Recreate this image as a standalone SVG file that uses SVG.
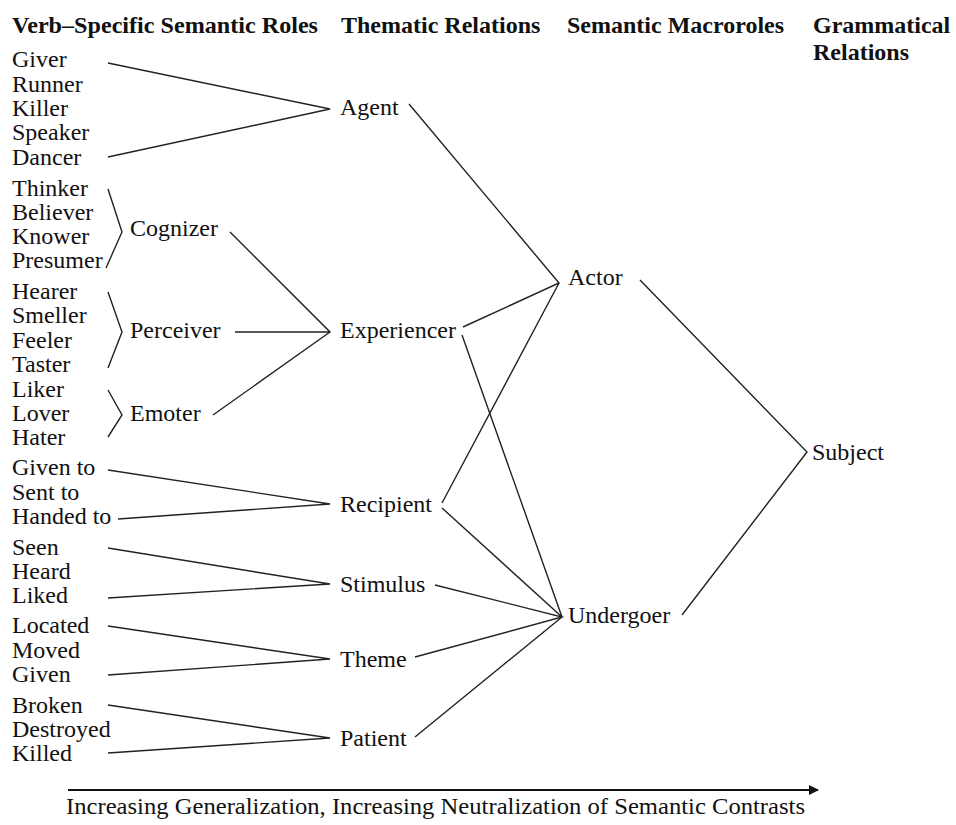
<svg xmlns="http://www.w3.org/2000/svg" width="956" height="825" viewBox="0 0 956 825">
<style>
text{font-family:"Liberation Serif","Times New Roman",serif;fill:#111;font-size:24px}
.h{font-weight:bold}
.c{fill:none;stroke:#222;stroke-width:1.4}
</style>
<defs>
<marker id="ah" viewBox="0 0 10 10" refX="9" refY="5" markerWidth="10" markerHeight="10" markerUnits="userSpaceOnUse" orient="auto">
<path d="M0,0 L10,5 L0,10 Z" fill="#111"/>
</marker>
</defs>
<rect width="956" height="825" fill="#fff"/>
<g id="headers">
<text class="h" x="12" y="33" textLength="306" lengthAdjust="spacingAndGlyphs">Verb–Specific Semantic Roles</text>
<text class="h" x="341" y="33">Thematic Relations</text>
<text class="h" x="567" y="33">Semantic Macroroles</text>
<text class="h" x="813" y="33">Grammatical</text>
<text class="h" x="813" y="60">Relations</text>
</g>
<g id="verb-roles">
<text x="12" y="67">Giver</text>
<text x="12" y="92">Runner</text>
<text x="12" y="116">Killer</text>
<text x="12" y="140">Speaker</text>
<text x="12" y="165">Dancer</text>
<text x="12" y="196">Thinker</text>
<text x="12" y="220">Believer</text>
<text x="12" y="244">Knower</text>
<text x="12" y="268">Presumer</text>
<text x="12" y="299">Hearer</text>
<text x="12" y="323">Smeller</text>
<text x="12" y="348">Feeler</text>
<text x="12" y="372">Taster</text>
<text x="12" y="397">Liker</text>
<text x="12" y="421">Lover</text>
<text x="12" y="445">Hater</text>
<text x="12" y="475">Given to</text>
<text x="12" y="500">Sent to</text>
<text x="12" y="524">Handed to</text>
<text x="12" y="555">Seen</text>
<text x="12" y="579">Heard</text>
<text x="12" y="603">Liked</text>
<text x="12" y="633">Located</text>
<text x="12" y="658">Moved</text>
<text x="12" y="682">Given</text>
<text x="12" y="713">Broken</text>
<text x="12" y="737">Destroyed</text>
<text x="12" y="761">Killed</text>
</g>
<g id="cognizer"><text x="130" y="236">Cognizer</text></g>
<g id="perceiver"><text x="130" y="338">Perceiver</text></g>
<g id="emoter"><text x="130" y="421">Emoter</text></g>
<g id="agent"><text x="340" y="115">Agent</text></g>
<g id="experiencer"><text x="340" y="338">Experiencer</text></g>
<g id="recipient"><text x="340" y="512">Recipient</text></g>
<g id="stimulus"><text x="340" y="592">Stimulus</text></g>
<g id="theme"><text x="340" y="667">Theme</text></g>
<g id="patient"><text x="340" y="746">Patient</text></g>
<g id="actor"><text x="568" y="285">Actor</text></g>
<g id="undergoer"><text x="568" y="623">Undergoer</text></g>
<g id="subject"><text x="812" y="460">Subject</text></g>
<g id="connectors">
<path class="c" d="M108,63 L330,109 L108,157"/>
<path class="c" d="M108,189 L122,232 L106,268"/>
<path class="c" d="M108,292 L122,332 L108,368"/>
<path class="c" d="M108,390 L122,415 L108,437"/>
<path class="c" d="M230,232 L330,332 L213,415 M235,332 L330,332"/>
<path class="c" d="M108,470 L330,504 L118,519"/>
<path class="c" d="M108,548 L330,584 L108,598"/>
<path class="c" d="M108,626 L330,659 L108,675"/>
<path class="c" d="M108,705 L330,738 L108,753"/>
<path class="c" d="M409,104 L559,283 L463,327 M559,283 L442,503"/>
<path class="c" d="M462,335 L562,617 L442,508 M435,585 L562,617 L415,657 M562,617 L415,737"/>
<path class="c" d="M640,280 L807,452 L682,615"/>
</g>
<g id="axis">
<line x1="68" y1="790" x2="818" y2="790" stroke="#111" stroke-width="2" marker-end="url(#ah)"/>
<text x="66" y="814" font-size="24" textLength="739" lengthAdjust="spacingAndGlyphs">Increasing Generalization, Increasing Neutralization of Semantic Contrasts</text>
</g>
</svg>
